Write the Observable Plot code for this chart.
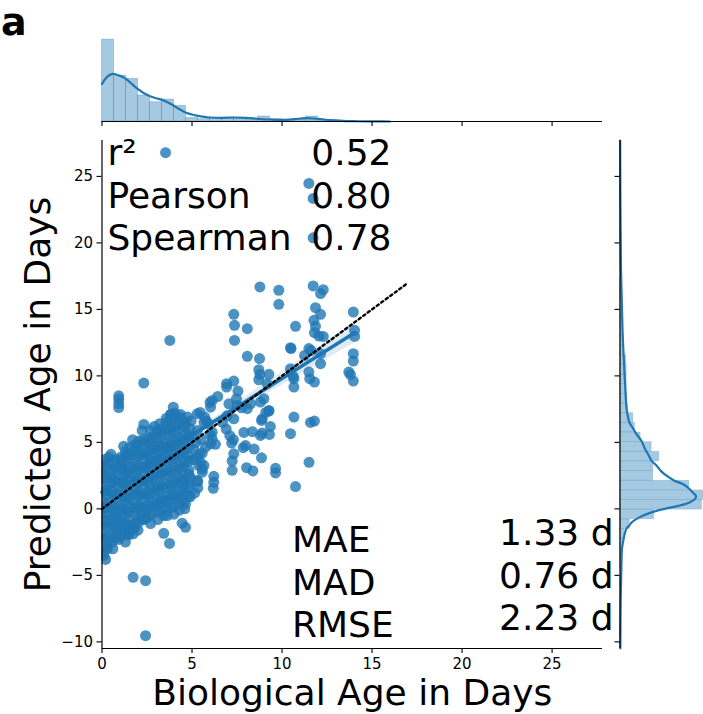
<!DOCTYPE html>
<html><head><meta charset="utf-8">
<script src="https://cdn.jsdelivr.net/npm/d3@7"></script>
<script src="https://cdn.jsdelivr.net/npm/@observablehq/plot@0.6"></script>
<style>
html,body{margin:0;padding:0;overflow:hidden;background:#fff;}
#chart{position:relative;width:703px;height:714px;font-family:"DejaVu Sans",sans-serif;}
#chart svg{position:absolute;}
</style></head><body><div id="chart"></div>
<script>
// ---------- data ----------
const xTicks = [0, 5, 10, 15, 20, 25];
const yTicks = [-10, -5, 0, 5, 10, 15, 20, 25];
const xDomain = [0, 27.8];
const yDomain = [-10.5, 27.7];

// dense cluster: [biological age, list of predicted ages]
const denseColumns = [
  [0.05, [-3.3,-2.7,-2.2,-1.9,-1.2,-0.9,-0.4,0.1,0.6,1.3,1.6,2.3,2.6,3.1]],
  [0.28, [-2.9,-2.4,-2.1,-1.4,-1.1,-0.4,0.1,0.4,1.1,1.4,2.1,2.4,3.0,3.4]],
  [0.57, [-2.5,-2.2,-1.5,-1.0,-0.7,0.0,0.3,1.0,1.3,2.0,2.3,2.9,3.5]],
  [0.79, [-2.2,-1.7,-1.4,-0.7,-0.2,0.1,0.8,1.1,1.8,2.1,2.8,3.1,3.7]],
  [1.06, [-2.0,-1.6,-1.0,-0.7,0.0,0.3,1.0,1.3,2.0,2.3,3.0,3.3,3.9]],
  [1.31, [-1.9,-1.4,-1.1,-0.4,-0.1,0.6,0.9,1.6,1.9,2.6,2.9,3.6,4.0,4.3]],
  [1.52, [-1.8,-1.2,-0.9,-0.2,0.1,0.8,1.1,1.8,2.1,2.8,3.1,3.8,4.1,4.6]],
  [1.83, [-1.4,-1.1,-0.4,0.1,0.4,1.1,1.4,2.1,2.4,3.1,3.4,4.1,4.4,4.8]],
  [2.04, [-1.0,-0.7,0.0,0.3,1.0,1.3,2.0,2.3,3.0,3.3,4.0,4.3,4.8,5.1]],
  [2.31, [-0.8,-0.2,0.1,0.8,1.1,1.8,2.1,2.8,3.1,3.8,4.1,4.7,5.2]],
  [2.56, [-0.6,0.0,0.3,1.0,1.3,2.0,2.3,3.0,3.3,4.0,4.3,4.9,5.3]],
  [2.78, [-0.4,0.2,0.5,1.2,1.5,2.2,2.5,3.2,3.5,4.2,4.5,5.1,5.4]],
  [3.07, [-0.2,0.3,0.7,1.4,1.7,2.4,2.7,3.4,3.7,4.4,4.7,5.3,5.7]],
  [3.29, [-0.1,0.5,0.8,1.5,1.8,2.5,2.8,3.5,3.8,4.5,4.8,5.5,6.0]],
  [3.56, [0.0,0.6,0.9,1.6,1.9,2.6,2.9,3.6,3.9,4.6,4.9,5.6,6.0,6.5,6.8]],
  [3.82, [0.1,0.7,1.0,1.7,2.0,2.7,3.0,3.7,4.0,4.7,5.0,5.7,6.1,6.6,7.1]],
  [4.03, [0.2,0.8,1.1,1.8,2.1,2.8,3.1,3.8,4.1,4.8,5.1,5.8,6.2,6.8,7.2]],
  [4.31, [0.4,0.9,1.3,2.0,2.3,3.0,3.3,4.0,4.3,5.0,5.3,6.0,6.4,6.9]],
  [4.54, [0.6,1.2,1.5,2.2,2.5,3.2,3.5,4.2,4.5,5.2,5.5,6.2,6.6]],
  [4.83, [1.0,1.6,1.9,2.6,2.9,3.6,3.9,4.6,5.2,5.6]]
];

// individually visible points: [biological age, predicted age]
const sparsePoints = [
  [3.53,26.78],[11.49,24.47],[11.73,23.34],[11.73,20.38],
  [8.77,16.69],[9.82,16.44],[9.82,15.38],[11.73,16.76],[12.29,16.48],[12.14,16.19],
  [11.86,15.13],[12.14,14.63],[11.77,14.18],[11.86,13.73],[11.8,13.25],[12.29,12.97],
  [12.05,13.0],[13.96,14.8],[14.03,13.43],[14.03,12.97],[13.96,11.67],[13.96,11.11],
  [13.71,10.29],[13.8,10.1],[13.96,9.61],[7.32,14.63],[7.36,13.8],[7.36,12.67],
  [8.07,13.55],[3.77,12.67],[2.32,9.46],[10.75,13.73],[10.47,12.12],[10.5,12.05],
  [8.07,11.47],[8.75,11.3],[11.25,11.54],[11.49,12.05],[11.62,11.9],[12.14,11.67],
  [12.14,10.92],[11.49,10.29],[11.54,9.79],[11.8,9.54],[8.71,10.47],[8.77,10.1],
  [8.71,9.71],[9.27,10.12],[9.17,9.41],[10.47,10.54],[10.62,9.97],[10.66,9.79],
  [10.66,9.16],[7.32,9.61],[6.92,9.41],[6.92,9.16],[7.55,8.86],[7.47,8.28],[7.5,7.78],
  [6.43,8.45],[6.12,8.15],[6.03,7.65],[3.96,7.65],[3.81,7.1],[4.36,7.1],[5.29,7.15],
  [0.93,8.5],[0.93,8.25],[0.93,7.92],[0.93,7.62],[8.8,8.03],[8.99,8.28],[9.27,7.4],
  [8.07,7.53],[10.66,6.9],[11.58,6.5],[11.8,6.6],[8.9,6.77],[7.05,7.9],[7.75,7.6],[9.1,7.25],
  [10.47,5.65],[10.75,1.68],[9.64,3.05],[9.64,2.7],[8.86,3.84],[8.03,3.1],[8.38,2.85],
  [8.8,5.52],[8.9,5.7],[7.88,5.75],[7.84,4.6],[7.97,4.76],[7.32,4.14],[7.23,3.6],
  [7.23,2.9],[7.1,5.5],[7.3,5.2],[7.2,4.95],[6.21,2.45],[6.21,2.0],[6.18,1.55],
  [5.32,2.05],[5.38,3.26],[5.57,3.0],[4.45,2.0],[4.64,0.38],[5.29,3.89],[5.47,3.5],
  [5.75,4.64],[6.12,5.27],[6.03,4.89],[5.7,6.9],[5.8,6.6],[5.9,6.4],[11.5,3.5],
  [9.27,7.35],[8.86,6.65],[6.0,8.0],[6.12,5.77],[6.95,7.0],[7.32,6.77],[8.25,7.9],
  [5.29,2.13],[5.32,1.58],[5.66,3.26],[5.57,2.76],[5.45,7.25],[5.66,6.5],[6.0,5.6],
  [6.3,4.85],[8.35,5.8],[8.45,4.5],[9.3,5.6],[9.35,6.2],[6.7,6.5],[6.9,6.0],
  [4.64,6.35],[4.9,6.0],[5.2,5.0],[5.57,4.2],[0.38,3.89],[1.03,3.64],[3.07,5.84],
  [2.32,6.35],[2.23,5.9],
  [4.95,2.3],[5.05,3.7],[5.1,4.5],[5.0,5.4],[5.15,1.2],[4.9,0.9],[5.4,4.1],[5.3,5.9],
  [5.5,5.2],[4.75,6.9],[4.95,6.6],[3.2,6.4],[2.7,5.9],[2.9,6.2],[1.7,5.2],[1.2,4.7],
  [0.5,4.1],[0.15,3.7],[0.6,-3.0],[0.2,-3.8],[1.3,-2.5],[2.0,-1.6],[2.7,-1.1],
  [3.1,-0.8],[4.0,-0.4],[4.3,-0.1],[4.6,0.0],
  [0.29,-3.0],[0.1,-3.5],[0.93,-2.3],[1.49,-1.96],[1.73,-1.88],[1.77,-1.43],
  [2.32,-0.75],[2.42,-0.68],[3.43,-0.5],[3.62,-0.5],[3.43,-1.84],[3.75,-2.6],
  [4.45,-1.08],[4.64,-1.39],[1.73,-5.15],[2.42,-5.4],[2.42,-9.54]
];

// regression fit and 95% band
const regLineX = [0, 14.03];
const regLineY = [1.25, 13.25];
const bandX = [0, 2, 4, 6, 8, 10, 12, 14.03];
const bandLow = [1.05, 2.84, 4.52, 6.13, 7.71, 9.3, 10.88, 12.5];
const bandHigh = [1.45, 3.08, 4.82, 6.63, 8.47, 10.3, 12.14, 14.0];

// identity line
const identityX = [0, 16.9];
const identityY = [0, 16.9];

// top marginal: histogram of biological age
const xBinEdges = [0,0.667,1.333,2,2.667,3.333,4,4.667,5.333,6,6.667,7.333,8,8.667,9.333,10,10.667,11.333,12,12.667,13.333,14];
const xBinCounts = [246,138,128,78,58,66,47,11,7,10,11,11,9,15,7,5,7,15,5,3,2];
const xKdeX = [0,0.3,0.6,1.0,1.33,1.67,2.0,2.33,2.67,3.0,3.33,3.67,4.0,4.33,4.67,5.0,5.33,5.67,6.0,6.67,7.33,8.0,8.67,9.33,10.0,10.67,11.33,12.0,12.67,13.33,14.0,14.67,15.33,16.0];
const xKdeY = [113,135,143,137,128,112,97,85,76,70,65,57,47,36,26,21,17,14,12,11,12,11,8,6,5,7,10,8,4,2,1,0.5,0.2,0];

// right marginal: histogram of predicted age
const yBinEdges = [-9.5,-8.774,-8.048,-7.322,-6.596,-5.87,-5.144,-4.418,-3.692,-2.966,-2.24,-1.514,-0.788,-0.062,0.664,1.39,2.116,2.842,3.568,4.294,5.02,5.746,6.472,7.198,7.924,8.65,9.376,10.102,10.828,11.554,12.28,13.006,13.732,14.458,15.184,15.91,16.636,17.362,18.088,18.814,19.54,20.266,20.992,21.718,22.444,23.17,23.896,24.622,25.348,26.074,26.8];
const yBinCounts = [2,0,0,0,0,4,0,1,5,8,14,30,103,246,250,208,100,100,118,95,62,45,40,23,21,20,20,20,19,12,11,9,7,5,3,4,3,0,0,0,0,1,0,0,0,1,1,0,0,1];
const yKdeV = [-10.5,-7,-4.5,-3,-2.5,-1.9,-1.5,-1.25,-1.0,-0.64,-0.3,0.0,0.24,0.5,0.75,0.95,1.12,1.4,1.62,1.9,2.12,2.4,2.84,3.3,3.57,4.07,4.5,5.08,5.6,6.1,6.5,6.9,7.5,8.1,9.0,10.0,11.0,12.5,14,16,18,20.6,24,27.7];
const yKdeD = [1,2,4,6,9,14,19,28,36,58,90,134,178,210,225,228,223,212,203,185,163,145,123,108,96,85,75,65,50,38,28,24,20,18,16,14,12,9,7,5,3,2,1,0.5];

// annotations
const statLabels = ["r\u00b2", "Pearson", "Spearman"];
const statValues = ["0.52", "0.80", "0.78"];
const errLabels = ["MAE", "MAD", "RMSE"];
const errValues = ["1.33 d", "0.76 d", "2.23 d"];
const xLabel = "Biological Age in Days";
const yLabel = "Predicted Age in Days";
const panelLabel = "a";

// ---------- build ----------
const blue = "#1f77b4";
const font = "DejaVu Sans";
const fmt = d => d < 0 ? "\u2212" + Math.abs(d) : String(d);
const points = [];
for (const [x, ys] of denseColumns) for (const y of ys) points.push([x, y]);
for (const p of sparsePoints) points.push(p);
const regLine = regLineX.map((x, i) => ({x, y: regLineY[i]}));
const band = bandX.map((x, i) => ({x, lo: bandLow[i], hi: bandHigh[i]}));
const identity = identityX.map((x, i) => ({x, y: identityY[i]}));
const xHist = xBinCounts.map((c, i) => ({x1: xBinEdges[i], x2: xBinEdges[i + 1], c}));
const xKde = xKdeX.map((x, i) => ({x, d: xKdeY[i]}));
const yHist = yBinCounts.map((c, i) => ({y1: yBinEdges[i], y2: yBinEdges[i + 1], c}));
const yKde = yKdeV.map((v, i) => ({v, d: yKdeD[i]}));
const big = 36, lh = 1.18;

const mainPlot = Plot.plot({
  width: 703, height: 714,
  marginLeft: 101.5, marginRight: 101, marginTop: 140, marginBottom: 66,
  style: {fontFamily: font, fontSize: "15px", background: "transparent", color: "black", overflow: "visible"},
  x: {domain: xDomain},
  y: {domain: yDomain},
  marks: [
    Plot.dot(points, {x: d => d[0], y: d => d[1], r: 5.5, fill: blue, fillOpacity: 0.8, stroke: null, clip: true}),
    Plot.areaY(band, {x: "x", y1: "lo", y2: "hi", fill: blue, fillOpacity: 0.15}),
    Plot.line(regLine, {x: "x", y: "y", stroke: blue, strokeWidth: 3.6}),
    Plot.line(identity, {x: "x", y: "y", stroke: "black", strokeWidth: 2.4, strokeDasharray: "2.4,3.2"}),
    Plot.text([statLabels.join("\n")], {frameAnchor: "top-left", dx: 5.5, dy: -5.2, lineAnchor: "top", textAnchor: "start", fontSize: big, lineHeight: lh, fill: "black"}),
    Plot.text([statValues.join("\n")], {frameAnchor: "top-left", dx: 289.5, dy: -5.2, lineAnchor: "top", textAnchor: "end", fontSize: big, lineHeight: lh, fill: "black"}),
    Plot.text([errLabels.join("\n")], {frameAnchor: "top-left", dx: 190, dy: 381.8, lineAnchor: "top", textAnchor: "start", fontSize: big, lineHeight: lh, fill: "black"}),
    Plot.text([errValues.join("\n")], {frameAnchor: "top-left", dx: 511.5, dy: 374.8, lineAnchor: "top", textAnchor: "end", fontSize: big, lineHeight: lh, fill: "black"}),
    Plot.text([xLabel], {frameAnchor: "bottom", dy: 44.5, lineAnchor: "middle", textAnchor: "middle", fontSize: big, fill: "black"}),
    Plot.text([yLabel], {frameAnchor: "left", dx: -64, rotate: -90, lineAnchor: "middle", textAnchor: "middle", fontSize: big, fill: "black"}),
    Plot.ruleX([xDomain[0]], {y1: yDomain[0], y2: yDomain[1], stroke: "black", strokeWidth: 1.2}),
    Plot.ruleY([yDomain[0]], {x1: xDomain[0], x2: xDomain[1], stroke: "black", strokeWidth: 1.2}),
    Plot.axisX(xTicks, {tickSize: 5, tickPadding: 5, tickFormat: fmt, fontSize: 15, label: null, strokeWidth: 1.1}),
    Plot.axisY(yTicks, {tickSize: 5, tickPadding: 4, tickFormat: fmt, fontSize: 15, label: null, strokeWidth: 1.1})
  ]
});

const topPlot = Plot.plot({
  width: 703, height: 127,
  marginLeft: 101.5, marginRight: 101, marginTop: 35, marginBottom: 6,
  style: {fontFamily: font, background: "transparent", color: "black", overflow: "visible"},
  x: {domain: xDomain},
  y: {domain: [0, Math.max(...xBinCounts) * 1.05], axis: null},
  marks: [
    Plot.rectY(xHist, {x1: "x1", x2: "x2", y: "c", fill: blue, fillOpacity: 0.4, stroke: blue, strokeOpacity: 0.35, strokeWidth: 0.8}),
    Plot.line(xKde, {x: "x", y: "d", stroke: blue, strokeWidth: 2.2, curve: "catmull-rom"}),
    Plot.ruleY([0], {x1: xDomain[0], x2: xDomain[1], stroke: "black", strokeWidth: 1.2}),
    Plot.axisX(xTicks, {tickSize: 5, tickFormat: () => "", label: null, strokeWidth: 1.1}),
    Plot.text([panelLabel], {frameAnchor: "top-left", dx: -101, dy: -27, lineAnchor: "top", textAnchor: "start", fontSize: 38, fontWeight: "bold", fill: "black"})
  ]
});

const rightPlot = Plot.plot({
  width: 95, height: 714,
  marginLeft: 7.5, marginRight: 0, marginTop: 140, marginBottom: 66,
  style: {fontFamily: font, background: "transparent", color: "black", overflow: "visible"},
  x: {domain: [0, Math.max(...yBinCounts) * 1.05], axis: null},
  y: {domain: yDomain},
  marks: [
    Plot.rectX(yHist, {y1: "y1", y2: "y2", x: "c", fill: blue, fillOpacity: 0.4, stroke: blue, strokeOpacity: 0.2, strokeWidth: 0.7}),
    Plot.line(yKde, {x: "d", y: "v", stroke: blue, strokeWidth: 2.2, curve: "catmull-rom"}),
    Plot.ruleX([0], {y1: yDomain[0], y2: yDomain[1], stroke: "black", strokeWidth: 1.2}),
    Plot.axisY(yTicks, {tickSize: 5, tickFormat: () => "", label: null, strokeWidth: 1.1})
  ]
});

const chart = document.getElementById("chart");
const place = (el, left, top) => { el.style.left = left + "px"; el.style.top = top + "px"; el.style.maxWidth = "none"; chart.appendChild(el); };
place(mainPlot, 0, 0);
place(topPlot, 0, 0);
place(rightPlot, 612, 0);
</script></body></html>
